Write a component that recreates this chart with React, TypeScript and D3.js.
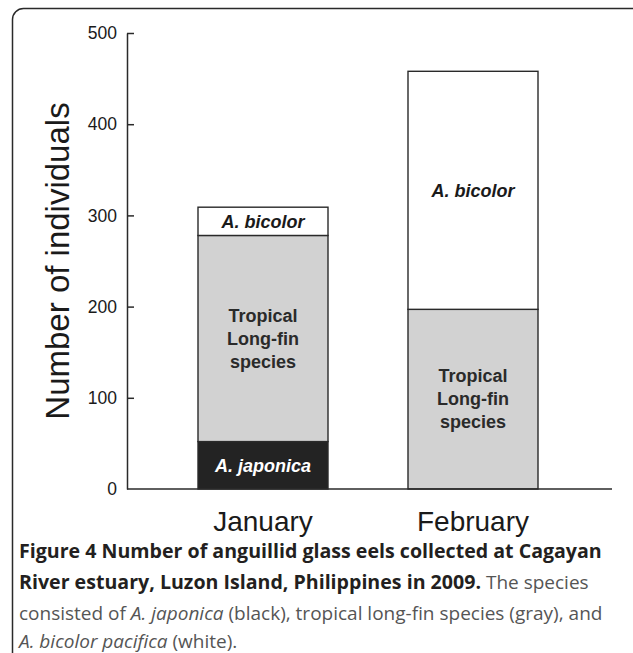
import React, { useRef, useEffect } from "react";
import * as d3 from "d3";

const months = ["January", "February"];
const japonica = [52, 0];
const tropical = [226, 197];
const bicolor = [31, 261];
const yTicks = [0, 100, 200, 300, 400, 500];

const W = 633;
const H = 653;
const font = "'Liberation Sans', Arial, Helvetica, sans-serif";
const capFont = "'Open Sans', 'Noto Sans', sans-serif";

const App: React.FC = () => {
  const gRef = useRef<SVGGElement | null>(null);

  useEffect(() => {
    if (!gRef.current) return;
    const svg = d3.select(gRef.current);
    svg.selectAll("*").remove();

    // frame round the figure, cut by the page edges on right/bottom
    svg
      .append("rect")
      .attr("x", 12.5)
      .attr("y", 8.5)
      .attr("width", 640)
      .attr("height", 655)
      .attr("rx", 11)
      .attr("fill", "none")
      .attr("stroke", "#2a2a2a")
      .attr("stroke-width", 1.5);

    const y = d3.scaleLinear().domain([0, 500]).range([489, 33]);
    const x = d3
      .scaleBand<string>()
      .domain(months)
      .range([158, 578])
      .paddingInner(80 / 210)
      .paddingOuter(40 / 210);

    const rows = months.map((m, i) => ({
      month: m,
      japonica: japonica[i],
      tropical: tropical[i],
      bicolor: bicolor[i],
    }));
    const keys = ["japonica", "tropical", "bicolor"];
    const fills: Record<string, string> = {
      japonica: "#232323",
      tropical: "#d2d2d2",
      bicolor: "#ffffff",
    };
    const series = d3.stack<any>().keys(keys)(rows);

    const g = svg.append("g");
    series.forEach((s) => {
      s.forEach((d: any) => {
        if (d[1] - d[0] <= 0) return;
        g.append("rect")
          .attr("x", x(d.data.month)!)
          .attr("y", y(d[1]))
          .attr("width", x.bandwidth())
          .attr("height", y(d[0]) - y(d[1]))
          .attr("fill", fills[s.key])
          .attr("stroke", "#2a2a2a")
          .attr("stroke-width", 1.4);
      });
    });

    // segment labels
    series.forEach((s) => {
      s.forEach((d: any) => {
        if (d[1] - d[0] <= 0) return;
        const cx = x(d.data.month)! + x.bandwidth() / 2;
        const cy = y((d[0] + d[1]) / 2);
        if (s.key === "tropical") {
          const lines = ["Tropical", "Long-fin", "species"];
          lines.forEach((t, j) => {
            g.append("text")
              .attr("x", cx)
              .attr("y", cy + (j - 1) * 23)
              .attr("dy", "0.35em")
              .attr("text-anchor", "middle")
              .attr("font-family", font)
              .attr("font-weight", "bold")
              .attr("font-size", 18)
              .attr("fill", "#2a2a2a")
              .text(t);
          });
        } else {
          g.append("text")
            .attr("x", cx)
            .attr("y", cy)
            .attr("dy", "0.35em")
            .attr("text-anchor", "middle")
            .attr("font-family", font)
            .attr("font-weight", "bold")
            .attr("font-style", "italic")
            .attr("font-size", 18)
            .attr("fill", s.key === "japonica" ? "#ffffff" : "#1a1a1a")
            .text(s.key === "japonica" ? "A. japonica" : "A. bicolor");
        }
      });
    });

    // y axis, ticks pointing inward
    const yAxis = svg
      .append("g")
      .attr("transform", "translate(127,0)")
      .call(
        d3
          .axisLeft(y)
          .tickValues(yTicks)
          .tickSizeInner(-7)
          .tickSizeOuter(0)
          .tickPadding(10)
      );
    yAxis.selectAll("path, line").attr("stroke", "#2a2a2a").attr("stroke-width", 1.5);
    yAxis
      .selectAll("text")
      .attr("font-family", font)
      .attr("font-size", 17.5)
      .attr("fill", "#1a1a1a");
    yAxis.selectAll(".tick").filter((d: any) => d === 0).select("line").remove();

    // baseline
    svg
      .append("line")
      .attr("x1", 127)
      .attr("x2", 612)
      .attr("y1", y(0))
      .attr("y2", y(0))
      .attr("stroke", "#2a2a2a")
      .attr("stroke-width", 1.5);

    // month labels
    months.forEach((m) => {
      svg
        .append("text")
        .attr("x", x(m)! + x.bandwidth() / 2)
        .attr("y", 531)
        .attr("text-anchor", "middle")
        .attr("font-family", font)
        .attr("font-size", 28)
        .attr("fill", "#1a1a1a")
        .text(m);
    });

    svg
      .append("text")
      .attr("transform", `translate(69,${(y(0) + y(500)) / 2}) rotate(-90)`)
      .attr("text-anchor", "middle")
      .attr("font-family", font)
      .attr("font-size", 33)
      .attr("fill", "#1a1a1a")
      .text("Number of individuals");
  }, []);

  const boldStyle = { fontFamily: capFont, fontSize: 19.6 };
  const capStyle = { fontFamily: capFont, fontSize: 19 };
  return (
    <svg
      width={W}
      height={H}
      style={{ position: "absolute", left: 0, top: 0 }}
    >
      <g ref={gRef} />
      <text x={19} y={558} style={boldStyle} fill="#231f20" fontWeight="bold">
        Figure 4 Number of anguillid glass eels collected at Cagayan
      </text>
      <text x={19} y={589} style={capStyle} fill="#555">
        <tspan fontWeight="bold" fill="#231f20" style={boldStyle}>
          River estuary, Luzon Island, Philippines in 2009.
        </tspan>{" "}
        The species
      </text>
      <text x={19} y={620} style={capStyle} fill="#555">
        consisted of <tspan fontStyle="italic">A. japonica</tspan> (black), tropical long-fin species (gray), and
      </text>
      <text x={19} y={648} style={capStyle} fill="#555">
        <tspan fontStyle="italic">A. bicolor pacifica</tspan> (white).
      </text>
    </svg>
  );
};

export default App;
